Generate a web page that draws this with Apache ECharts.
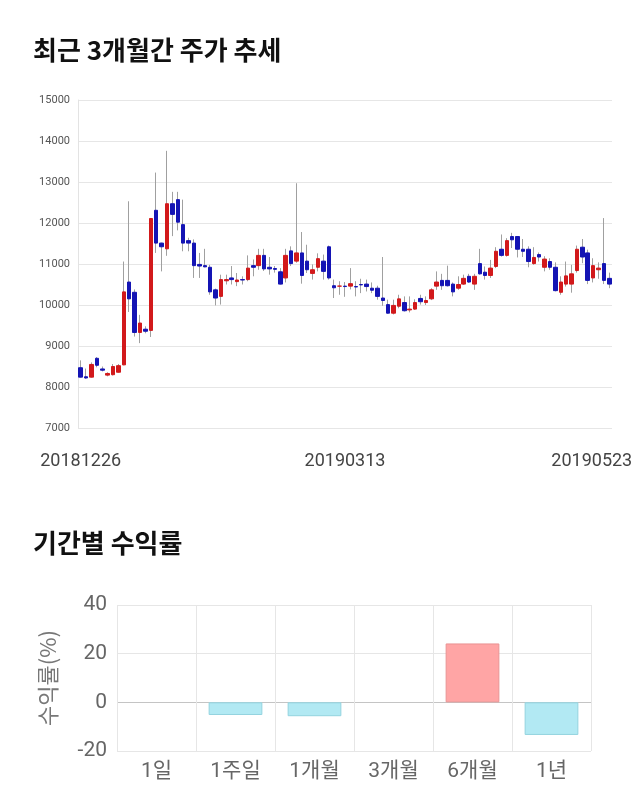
<!DOCTYPE html>
<html><head><meta charset="utf-8">
<script src="https://cdn.jsdelivr.net/npm/echarts@6/dist/echarts.min.js"></script>
<style>html,body{margin:0;padding:0;background:#fff}#c{width:640px;height:810px}</style>
</head><body><div id="c"></div>
<script>
const dates = ['20181226','20181227','20181228',
'20190102','20190103','20190104','20190107','20190108','20190109','20190110','20190111','20190114','20190115','20190116','20190117','20190118','20190121','20190122','20190123','20190124','20190125','20190128','20190129','20190130','20190131',
'20190201','20190207','20190208','20190211','20190212','20190213','20190214','20190215','20190218','20190219','20190220','20190221','20190222','20190225','20190226','20190227','20190228',
'20190304','20190305','20190306','20190307','20190308','20190311','20190312','20190313','20190314','20190315','20190318','20190319','20190320','20190321','20190322','20190325','20190326','20190327','20190328','20190329',
'20190401','20190402','20190403','20190404','20190405','20190408','20190409','20190410','20190411','20190412','20190415','20190416','20190417','20190418','20190419','20190422','20190423','20190424','20190425','20190426','20190429','20190430',
'20190502','20190503','20190507','20190508','20190509','20190510','20190513','20190514','20190515','20190516','20190517','20190520','20190521','20190522','20190523'];
const opens  = [8470,8250,8240,8700,8440,8290,8300,8360,8540,10560,10310,9330,9410,9380,12310,11510,11370,12470,12570,11960,11570,11510,10990,10960,10920,10370,10210,10590,10660,10570,10620,10620,10960,10960,11210,10920,10890,10810,10660,11320,11070,11270,11070,10770,10920,11070,11420,10470,10460,10460,10460,10450,10500,10510,10410,10410,10170,10010,9800,9970,10060,9880,9900,10160,10060,10150,10460,10600,10600,10510,10410,10510,10700,10510,11010,10800,10720,10940,11360,11210,11670,11670,11360,11360,11010,11230,10920,11060,10920,10310,10510,10510,10840,11410,11270,10660,10860,11010,10650];
const closes = [8240,8220,8550,8530,8410,8330,8500,8520,10320,10150,9330,9560,9360,12110,11510,11420,12470,12210,12020,11510,11510,10960,10950,10930,10320,10170,10620,10620,10620,10610,10610,10900,10920,11210,10880,10880,10870,10510,11210,11010,11270,10720,10860,10860,11130,10820,10660,10420,10460,10450,10520,10440,10490,10450,10360,10210,10110,9800,9990,10150,9860,9900,10060,10080,10110,10370,10560,10470,10470,10320,10500,10650,10560,10700,10760,10720,10900,11310,11210,11570,11590,11360,11310,11060,11160,11170,11120,10920,10350,10560,10710,10760,11360,11170,10600,10960,10900,10600,10510];
const lows   = [8230,8200,8230,8480,8380,8260,8280,8350,8530,9830,9230,9070,9310,9220,11270,10820,11200,11680,11820,11310,11310,10660,10660,10920,10250,9990,10010,10500,10500,10460,10500,10580,10700,10860,10830,10740,10790,10500,10550,10950,11030,10520,10780,10620,10820,10620,10620,10170,10250,10200,10380,10210,10290,10330,10290,10130,9980,9790,9770,9920,9840,9820,9880,10010,10000,10120,10370,10370,10450,10210,10370,10490,10540,10370,10740,10620,10660,10900,11180,11180,11390,11160,11170,10920,10980,11060,10820,10860,10330,10250,10450,10300,10790,11020,10510,10550,10640,10510,10410];
const highs  = [8650,8450,8600,8730,8500,8360,8560,8560,11060,12530,10380,9760,9480,12120,13230,11520,13760,12760,12760,12570,11640,11600,11270,11370,10980,10400,10740,10740,10950,10780,10700,11210,11110,11370,11370,11170,10950,10900,11370,11430,12970,11780,11470,10990,11260,11230,11450,10620,10580,10560,10900,10580,10640,10620,10550,10470,11170,10130,10130,10250,10210,10210,10140,10250,10210,10410,10820,10760,10960,10550,10700,10740,10760,10760,11370,10940,11100,11410,11720,11630,11760,11670,11610,11430,11410,11280,11190,11140,11040,10700,11060,10980,11450,11610,11350,11140,11040,12120,10790];
const priceTicks = [7000, 15000, 1000];

const periods = ['1일','1주일','1개월','3개월','6개월','1년'];
const returns = [0, -5.2, -5.7, 0, 24.2, -13.4];

const UP = '#d2191b', DOWN = '#1414b4', WICK = '#a0a0a0';
const wickData = dates.map((d,i)=>[opens[i], closes[i], lows[i], highs[i]]);
const bodyData = dates.map((d,i)=>[opens[i], closes[i], Math.min(opens[i],closes[i]), Math.max(opens[i],closes[i])]);
const labelIdx = [0, 49, 98];

const chart = echarts.init(document.getElementById('c'), null, {renderer:'canvas'});
chart.setOption({
  animation: false,
  backgroundColor: '#fff',
  title: [
    {text:'최근 3개월간 주가 추세', left: 28, top: 32, textStyle:{fontFamily:'"Noto Sans CJK KR"', fontWeight:'bold', fontSize:26, color:'#111'}},
    {text:'기간별 수익률', left: 28, top: 525, textStyle:{fontFamily:'"Noto Sans CJK KR"', fontWeight:'bold', fontSize:26, color:'#111'}}
  ],
  grid: [
    {left:78, right:28, top:100, height:328},
    {left:117, right:49, top:605, height:146}
  ],
  xAxis: [
    {type:'category', gridIndex:0, data:dates, boundaryGap:true,
     axisLine:{show:false}, axisTick:{show:false}, splitLine:{show:false},
     axisLabel:{interval:(i)=>labelIdx.includes(i), fontSize:18, color:'#444', margin:24, fontFamily:'Roboto, sans-serif',
       formatter:(v,i)=> i===98 ? '{r|'+v+'}' : v,
       rich:{r:{width:116, align:'left', fontSize:18, color:'#444', fontFamily:'Roboto, sans-serif'}}}},
    {type:'category', gridIndex:1, data:periods,
     axisLine:{show:false}, axisTick:{show:false},
     splitLine:{show:true, lineStyle:{color:'#e6e6e6'}},
     axisLabel:{fontSize:21, color:'#666', margin:10, fontFamily:'Roboto, "Noto Sans CJK KR", sans-serif'}}
  ],
  yAxis: [
    {type:'value', gridIndex:0, min:priceTicks[0], max:priceTicks[1], interval:priceTicks[2],
     axisLine:{show:true, lineStyle:{color:'#e3e3e3'}}, axisTick:{show:false},
     splitLine:{lineStyle:{color:'#e6e6e6'}},
     axisLabel:{fontSize:11, color:'#555', margin:8, fontFamily:'Roboto, sans-serif', formatter:(v)=>String(v)}},
    {type:'value', gridIndex:1, min:-20, max:40, interval:20,
     name:'수익률(%)', nameLocation:'middle', nameRotate:90, nameGap:58,
     nameTextStyle:{fontSize:22, color:'#777', fontFamily:'"Noto Sans CJK KR"'},
     axisLine:{show:false}, axisTick:{show:false},
     splitLine:{lineStyle:{color:['#e6e6e6','#c4c4c4','#e6e6e6','#e6e6e6']}},
     axisLabel:{fontSize:21, color:'#666', margin:10, fontFamily:'Roboto, sans-serif'}}
  ],
  series: [
    {type:'candlestick', xAxisIndex:0, yAxisIndex:0, data:wickData, barWidth:1,
     itemStyle:{color:WICK, color0:WICK, borderColor:WICK, borderColor0:WICK, borderWidth:1}},
    {type:'candlestick', xAxisIndex:0, yAxisIndex:0, data:bodyData, barWidth:4,
     itemStyle:{color:UP, color0:DOWN, borderColor:UP, borderColor0:DOWN, borderWidth:1}},
    {type:'bar', xAxisIndex:1, yAxisIndex:1, barWidth:'68%',
     data: returns.map(v=>({value:v, itemStyle: v>=0 ? {color:'#ffa5a5', borderColor:'#e99393', borderWidth: v===0?0:1} : {color:'#b2e9f3', borderColor:'#93d3df', borderWidth:1}}))}
  ]
});
</script></body></html>
